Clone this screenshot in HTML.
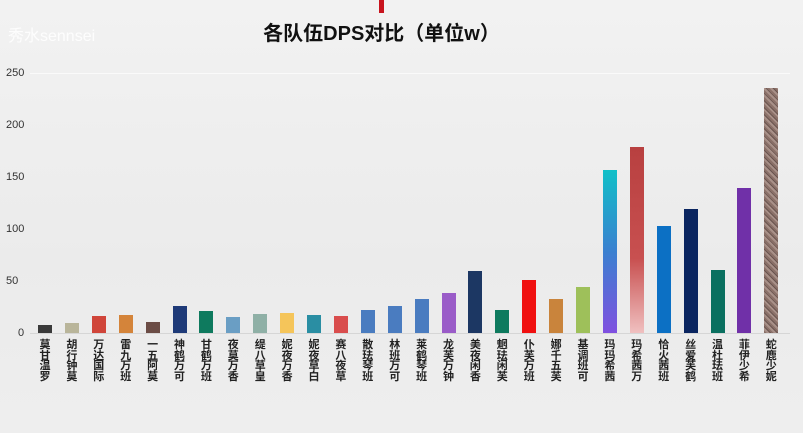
<!DOCTYPE html>
<html><head><meta charset="utf-8"><style>
body{margin:0;width:803px;height:433px;overflow:hidden;background:linear-gradient(180deg,#f2f2f2,#ebebeb 60%,#eeeeee);font-family:"Liberation Sans","Noto Sans CJK SC",sans-serif;position:relative}
.t{position:absolute;left:0;width:763px;text-align:center;top:17px;font-size:20px;font-weight:bold;color:#111}
.wm{position:absolute;left:8px;top:22px;font-size:16px;color:#fff;opacity:.9}
.yl{position:absolute;left:6px;font-size:11px;color:#333}
.g{position:absolute;left:30px;width:760px;height:1px;background:#e2e2e2}
.b{position:absolute;width:14px}
.l{position:absolute;top:340px;width:16px;font-size:11px;font-weight:bold;line-height:10.5px;color:#222;text-align:center}
</style></head><body>
<div style="position:absolute;left:379px;top:0;width:5px;height:13px;background:#c8141e"></div>
<div class="wm">秀水sennsei</div>
<div class="t">各队伍DPS对比（单位w）</div>
<div class="yl" style="top:67px">250</div>
<div class="yl" style="top:119px">200</div>
<div class="yl" style="top:171px">150</div>
<div class="yl" style="top:223px">100</div>
<div class="yl" style="top:275px">50</div>
<div class="yl" style="top:327px;left:18px">0</div>
<div class="g" style="top:73px;background:#fafafa"></div>
<div class="g" style="top:333px;background:#d6d6d6"></div>
<div id="c"></div>
<script>
var d=[["莫甘温罗",8,"#3a3a3a"],["胡行钟莫",10,"#b9b59a"],["万达国际",16,"#d0453a"],["雷九万班",17,"#d4843a"],["一五阿莫",11,"#6b4c45"],["神鹤万可",26,"#1e3a78"],["甘鹤万班",21,"#0e7a5e"],["夜莫万香",15,"#6a9ec4"],["缇八草皇",18,"#8fb0a6"],["妮夜万香",19,"#f5c55a"],["妮夜草白",17,"#2a8ea3"],["赛八夜草",16,"#d94d4d"],["散珐琴班",22,"#4a7cc0"],["林班万可",26,"#4a7cc0"],["莱鹤琴班",33,"#4a7cc0"],["龙芙万钟",38,"#9a5cc8"],["美夜闲香",60,"#1c3763"],["魍珐闲芙",22,"#0e7a5e"],["仆芙万班",51,"#f01010"],["娜千五芙",33,"#c9843c"],["基调班可",44,"#9ec05a"],["玛玛希茜",157,"linear-gradient(#10c0c8,#3a80d0 50%,#8050e0)"],["玛希茜万",179,"linear-gradient(#b84040,#c85050 60%,#f0c0c0)"],["恰火茜班",103,"#0c70c4"],["丝爱芙鹤",119,"#0a2560"],["温杜珐班",61,"#0a7060"],["菲伊少希",139,"#7030a8"],["蛇鹿少妮",236,"repeating-linear-gradient(45deg,#8a7068 0 2px,#a89088 2px 4px,#6a5550 4px 5px)"]];
var h="";d.forEach(function(e,i){var cx=45+i*26.9,ht=e[1]*1.04;
h+='<div class="b" style="left:'+(cx-7)+'px;top:'+(333-ht)+'px;height:'+ht+'px;background:'+e[2]+'"></div>';
h+='<div class="l" style="left:'+(cx-8)+'px">'+e[0].split("").join("<br>")+'</div>';});
document.getElementById("c").innerHTML=h;
</script>
</body></html>
